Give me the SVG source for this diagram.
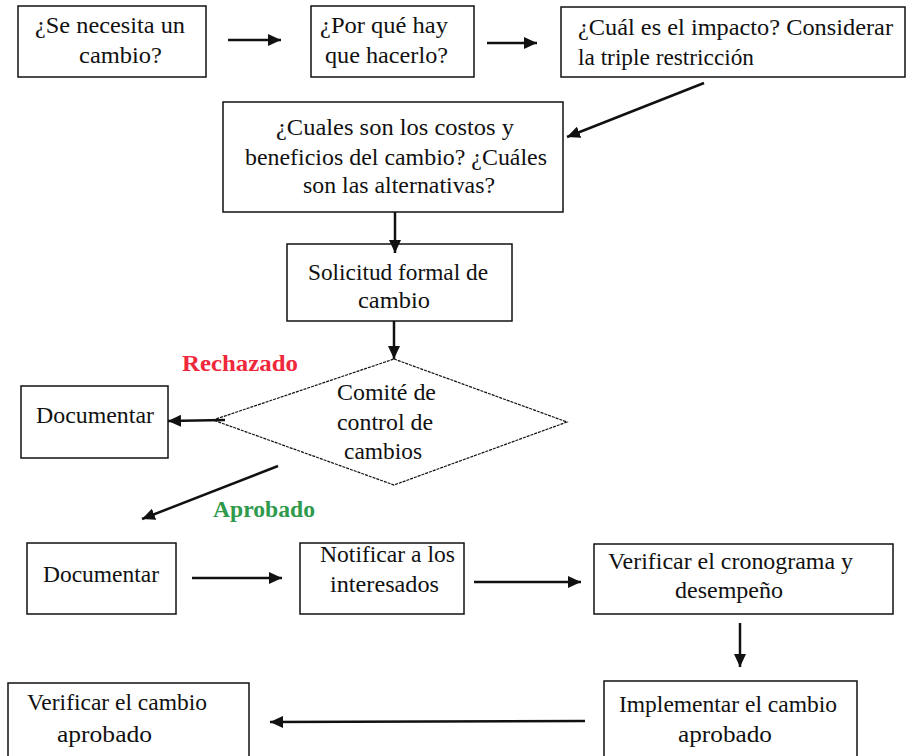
<svg xmlns="http://www.w3.org/2000/svg" width="907" height="756" viewBox="0 0 907 756" font-family="'Liberation Serif', 'Times New Roman', serif">
  <defs>
    <marker id="head" markerUnits="userSpaceOnUse" markerWidth="14" markerHeight="12" refX="13" refY="6" orient="auto">
      <path d="M0,0 L13,6 L0,12 z" fill="#111"/>
    </marker>
    <style>
      .box { fill: #fff; stroke: #111; stroke-width: 1.5; }
      .dia { fill: #fff; stroke: #111; stroke-width: 1.2; stroke-dasharray: 3 1; }
      .t { font-family: 'Liberation Serif', 'Times New Roman', serif; font-size: 23px; fill: #111; }
      .lbl { font-family: 'Liberation Serif', 'Times New Roman', serif; font-size: 23px; font-weight: bold; }
      .conn line { stroke: #111; stroke-width: 2.5; marker-end: url(#head); }
    </style>
  </defs>
  <rect width="907" height="756" fill="#fff"/>

  <g id="need-change">
    <rect class="box" x="18" y="6" width="188" height="71"/>
    <text class="t" x="35" y="33" textLength="150" lengthAdjust="spacingAndGlyphs">¿Se necesita un</text>
    <text class="t" x="79" y="63" textLength="83" lengthAdjust="spacingAndGlyphs">cambio?</text>
  </g>

  <g id="why">
    <rect class="box" x="311" y="6" width="163" height="71"/>
    <text class="t" x="320" y="33" textLength="128" lengthAdjust="spacingAndGlyphs">¿Por qué hay</text>
    <text class="t" x="325" y="63" textLength="123" lengthAdjust="spacingAndGlyphs">que hacerlo?</text>
  </g>

  <g id="impact">
    <rect class="box" x="561" y="7" width="344" height="70"/>
    <text class="t" x="578" y="35" textLength="315" lengthAdjust="spacingAndGlyphs">¿Cuál es el impacto? Considerar</text>
    <text class="t" x="578" y="65" textLength="176" lengthAdjust="spacingAndGlyphs">la triple restricción</text>
  </g>

  <g id="costs">
    <rect class="box" x="223" y="102" width="340" height="110"/>
    <text class="t" x="276" y="135" textLength="238" lengthAdjust="spacingAndGlyphs">¿Cuales son los costos y</text>
    <text class="t" x="245" y="165" textLength="302" lengthAdjust="spacingAndGlyphs">beneficios del cambio? ¿Cuáles</text>
    <text class="t" x="303" y="193" textLength="192" lengthAdjust="spacingAndGlyphs">son las alternativas?</text>
  </g>

  <g id="request">
    <rect class="box" x="287" y="244" width="225" height="77"/>
    <text class="t" x="308" y="280" textLength="180" lengthAdjust="spacingAndGlyphs">Solicitud formal de</text>
    <text class="t" x="358" y="308" textLength="72" lengthAdjust="spacingAndGlyphs">cambio</text>
  </g>

  <g id="committee">
    <polygon class="dia" points="394,359 567,422 394,485 213,420"/>
    <text class="t" x="337" y="400" textLength="99" lengthAdjust="spacingAndGlyphs">Comité de</text>
    <text class="t" x="337" y="430" textLength="96" lengthAdjust="spacingAndGlyphs">control de</text>
    <text class="t" x="344" y="459" textLength="78" lengthAdjust="spacingAndGlyphs">cambios</text>
  </g>

  <g id="document-rejected">
    <rect class="box" x="21" y="386" width="147" height="72"/>
    <text class="t" x="36" y="423" textLength="118" lengthAdjust="spacingAndGlyphs">Documentar</text>
  </g>

  <g id="document-approved">
    <rect class="box" x="27" y="543" width="149" height="71"/>
    <text class="t" x="43" y="582" textLength="116" lengthAdjust="spacingAndGlyphs">Documentar</text>
  </g>

  <g id="notify">
    <rect class="box" x="300" y="543" width="164" height="71"/>
    <text class="t" x="320" y="562" textLength="135" lengthAdjust="spacingAndGlyphs">Notificar a los</text>
    <text class="t" x="330" y="592" textLength="109" lengthAdjust="spacingAndGlyphs">interesados</text>
  </g>

  <g id="schedule">
    <rect class="box" x="594" y="544" width="299" height="70"/>
    <text class="t" x="608" y="569" textLength="245" lengthAdjust="spacingAndGlyphs">Verificar el cronograma y</text>
    <text class="t" x="675" y="598" textLength="108" lengthAdjust="spacingAndGlyphs">desempeño</text>
  </g>

  <g id="implement">
    <rect class="box" x="604" y="681" width="253" height="90"/>
    <text class="t" x="619" y="712" textLength="218" lengthAdjust="spacingAndGlyphs">Implementar el cambio</text>
    <text class="t" x="678" y="742" textLength="94" lengthAdjust="spacingAndGlyphs">aprobado</text>
  </g>

  <g id="verify">
    <rect class="box" x="8" y="683" width="241" height="90"/>
    <text class="t" x="27" y="710" textLength="180" lengthAdjust="spacingAndGlyphs">Verificar el cambio</text>
    <text class="t" x="57" y="742" textLength="95" lengthAdjust="spacingAndGlyphs">aprobado</text>
  </g>

  <g id="labels">
    <text class="lbl" x="182" y="371" fill="#f0283c" textLength="116" lengthAdjust="spacingAndGlyphs">Rechazado</text>
    <text class="lbl" x="213" y="517" fill="#2f9a4c" textLength="102" lengthAdjust="spacingAndGlyphs">Aprobado</text>
  </g>

  <g id="connectors" class="conn">
    <line x1="228" y1="40" x2="281" y2="40"/>
    <line x1="487" y1="43" x2="537" y2="43"/>
    <line x1="704" y1="83" x2="567" y2="137"/>
    <line x1="395" y1="212" x2="395" y2="253"/>
    <line x1="394" y1="321" x2="394" y2="359"/>
    <line x1="225" y1="420" x2="168" y2="421"/>
    <line x1="278" y1="466" x2="142" y2="519"/>
    <line x1="192" y1="578" x2="282" y2="578"/>
    <line x1="474" y1="582" x2="581" y2="582"/>
    <line x1="740" y1="623" x2="740" y2="667"/>
    <line x1="585" y1="721" x2="270" y2="722"/>
  </g>
</svg>
